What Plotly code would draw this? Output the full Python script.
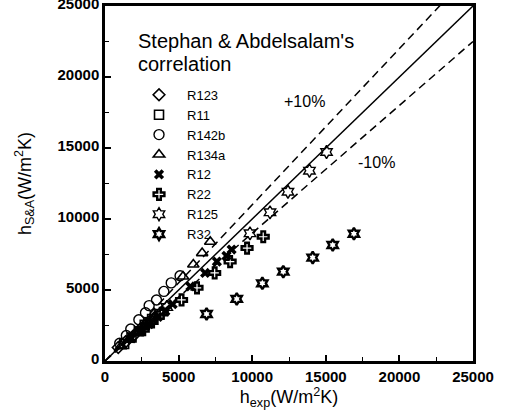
import plotly.graph_objects as go

# ---- data ----
r123_x = [900, 1400, 1900, 2400, 2900, 3400]
r123_y = [950, 1350, 1750, 2250, 2650, 3100]
r11_x = [1300, 1800, 2300, 2700, 3200, 3700]
r11_y = [1200, 1650, 2100, 2550, 2950, 3300]
r142b_x = [1000, 1450, 1750, 2300, 2750, 3000, 3500, 4000, 4500, 5100]
r142b_y = [1250, 1800, 2250, 2900, 3400, 3900, 4300, 4900, 5500, 6000]
r134a_x = [1100, 1600, 2100, 2600, 3100, 5300, 6000, 6600, 7150]
r134a_y = [1050, 1500, 2000, 2400, 2800, 5950, 6800, 7600, 8400]
r12_x = [1800, 2400, 3000, 3600, 4100, 4600, 5800, 6800, 7600, 8250, 8600]
r12_y = [1600, 2100, 2600, 3100, 3500, 4000, 5250, 6200, 7000, 7400, 7850]
r22_x = [2600, 3200, 3850, 5200, 6250, 7450, 8500, 9650, 10750]
r22_y = [2200, 2750, 3350, 4300, 5150, 6200, 7000, 7950, 8750]
r125_x = [4200, 9850, 11210, 12430, 13890, 15050]
r125_y = [3800, 8990, 10470, 11920, 13400, 14720]
r32_x = [6900, 8950, 10690, 12110, 14110, 15470, 16910]
r32_y = [3310, 4370, 5470, 6290, 7280, 8170, 8960]

line_x = [0, 25000]
factors = {"plus": 1.1, "equal": 1.0, "minus": 0.9}

tick_vals = [0, 5000, 10000, 15000, 20000, 25000]
tick_text = ["0", "5000", "10000", "15000", "20000", "25000"]

FONT = "Liberation Sans, Arial, sans-serif"

fig = go.Figure()

# reference lines
fig.add_trace(go.Scatter(x=line_x, y=[v * factors["equal"] for v in line_x], mode="lines",
                         line=dict(color="black", width=1.5), showlegend=False, hoverinfo="skip"))
fig.add_trace(go.Scatter(x=line_x, y=[v * factors["plus"] for v in line_x], mode="lines",
                         line=dict(color="black", width=1.5, dash="8px,5px"), showlegend=False, hoverinfo="skip"))
fig.add_trace(go.Scatter(x=line_x, y=[v * factors["minus"] for v in line_x], mode="lines",
                         line=dict(color="black", width=1.5, dash="8px,5px"), showlegend=False, hoverinfo="skip"))

series = [
    ("R123", r123_x, r123_y, "diamond-open", 9, 1.6),
    ("R11", r11_x, r11_y, "square-open", 9, 1.6),
    ("R142b", r142b_x, r142b_y, "circle-open", 10, 1.4),
    ("R134a", r134a_x, r134a_y, "triangle-up-open", 10, 1.6),
    ("R12", r12_x, r12_y, "x", 9, 0),
    ("R22", r22_x, r22_y, "cross-open", 9, 2.4),
    ("R125", r125_x, r125_y, "hexagram-open", 10, 1.4),
    ("R32", r32_x, r32_y, "hexagram-open", 9, 2.4),
]
for name, xs, ys, sym, size, lw in series:
    fig.add_trace(go.Scatter(
        x=xs, y=ys, mode="markers", name=name,
        marker=dict(symbol=sym, size=size, color="black",
                    line=dict(color="black", width=lw)),
    ))

axis_common = dict(
    range=[0, 25000], tickvals=tick_vals, ticktext=tick_text,
    ticks="inside", ticklen=6, tickwidth=1.5, tickcolor="black",
    minor=dict(dtick=2500, ticks="inside", ticklen=4, tickwidth=1.2, tickcolor="black"),
    showgrid=False, zeroline=False, showline=True, linewidth=2.5, linecolor="black",
    mirror=True, tickfont=dict(family=FONT, size=15, color="black", weight="bold"),
    automargin=False, ticklabeloverflow="allow",
)

fig.update_layout(
    width=505, height=418,
    margin=dict(l=105, r=32, t=6, b=57),
    paper_bgcolor="white", plot_bgcolor="white",
    font=dict(family=FONT, color="black"),
    xaxis=dict(**axis_common,
               title=dict(text="h<sub>exp</sub>(W/m<sup>2</sup>K)", font=dict(size=18, family=FONT), standoff=6)),
    yaxis=dict(**axis_common, ticklabelshift=-2,
               title=dict(text="h<sub>S&A</sub>(W/m<sup>2</sup>K)", font=dict(size=18, family=FONT), standoff=22)),
    legend=dict(x=0.0707, y=0.792, xanchor="left", yanchor="top",
                bgcolor="rgba(0,0,0,0)", font=dict(size=13, family=FONT),
                itemwidth=46, tracegroupgap=0),
    annotations=[
        dict(text="Stephan & Abdelsalam's", xref="paper", yref="paper",
             x=0.084, y=0.90, xanchor="left", yanchor="middle",
             showarrow=False, font=dict(size=20, family=FONT)),
        dict(text="correlation", xref="paper", yref="paper",
             x=0.084, y=0.838, xanchor="left", yanchor="middle",
             showarrow=False, font=dict(size=20, family=FONT)),
        dict(text="+10%", x=13520, y=18240, xref="x", yref="y", showarrow=False,
             font=dict(size=16, family=FONT)),
        dict(text="-10%", x=18410, y=14010, xref="x", yref="y", showarrow=False,
             font=dict(size=16, family=FONT)),
    ],
)

# remove the browser's default 8px page margin so the figure sits at the window origin
fig.write_html("out.html", config={"displayModeBar": False},
               post_script="document.body.style.margin='0';")
